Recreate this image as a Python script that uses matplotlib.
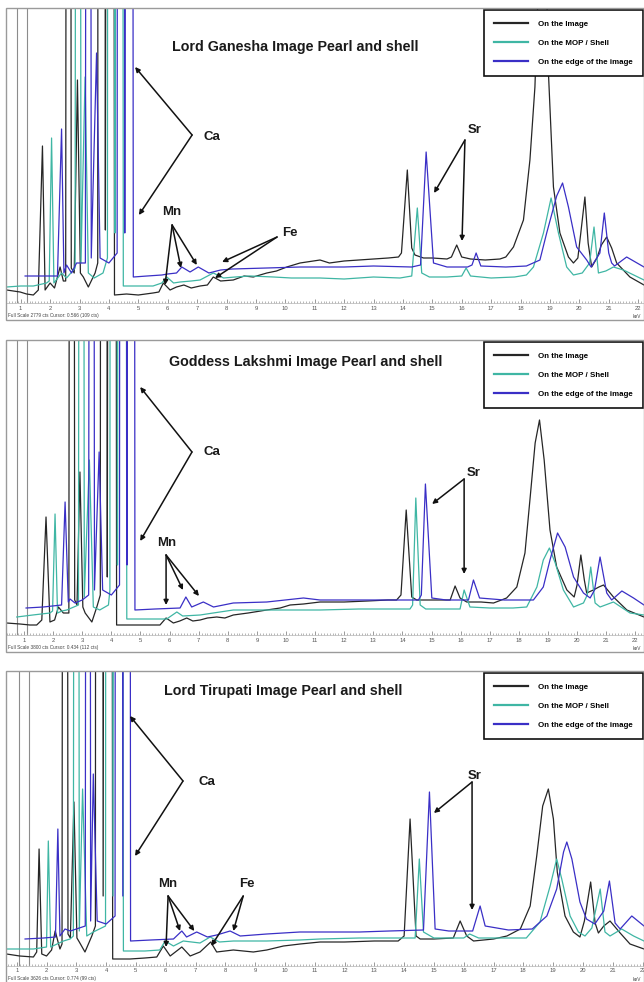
import matplotlib
matplotlib.use('Agg')
import matplotlib.pyplot as plt
from matplotlib.patches import Rectangle
from matplotlib.lines import Line2D
from matplotlib.ticker import MultipleLocator

plt.rcParams['font.family'] = ['Liberation Sans', 'DejaVu Sans']

# XRF spectra as (keV, height above the axis, a.u.)
# the Ca lines go far off scale, so they get a very high apex and are clipped

series_names = ['On the Image', 'On the MOP / Shell', 'On the edge of the image']
series_colors = ['#262626', '#3fb6a4', '#3a2fc6']

titles = ['Lord Ganesha Image Pearl and shell',
          'Goddess Lakshmi Image Pearl and shell',
          'Lord Tirupati Image Pearl and shell']
footers = ['Full Scale 2779 cts Cursor: 0.566 (109 cts)',
           'Full Scale 3800 cts Cursor: 0.434 (112 cts)',
           'Full Scale 3626 cts Cursor: 0.774 (99 cts)']

# grey marker lines at the far left of each panel (keV)
marker_lines = [[0.87, 1.21], [0.77, 1.09], [1.09, 1.42]]

# ---- Lord Ganesha ----
ganesha_image = [(0.52, 13), (0.75, 12), (0.98, 11), (1.2, 9), (1.43, 8), (1.6, 13), (1.74, 157), (1.83, 13),
                 (2.0, 20), (2.15, 15), (2.34, 36), (2.45, 22), (2.53, 22), (2.62, 3000), (2.72, 35), (2.82, 30),
                 (2.93, 223), (3.03, 30), (3.13, 26), (3.3, 16), (3.53, 30), (3.62, 40), (3.72, 6000), (3.88, 73),
                 (4.04, 4000), (4.19, 8), (4.6, 9), (5.0, 8), (5.5, 10), (5.7, 11), (5.85, 20), (6.08, 13),
                 (6.3, 16), (6.55, 18), (6.8, 15), (7.1, 17), (7.35, 18), (7.55, 26), (7.8, 22), (8.23, 23),
                 (8.6, 27), (8.91, 26), (9.37, 30), (9.7, 32), (10.05, 36), (10.5, 40), (11.18, 43), (11.5, 40),
                 (12.0, 42), (12.5, 43), (13.0, 44), (13.5, 45), (13.85, 46), (13.95, 50), (14.15, 133),
                 (14.3, 55), (14.41, 48), (14.7, 45), (15.0, 45), (15.5, 44), (15.65, 46), (15.83, 58), (16.0, 46),
                 (16.3, 44), (16.8, 43), (17.3, 44), (17.5, 46), (17.76, 56), (18.1, 83), (18.32, 143),
                 (18.49, 216), (18.62, 330), (18.75, 360), (18.9, 300), (18.95, 230), (19.12, 116), (19.34, 70),
                 (19.63, 46), (19.8, 40), (19.95, 45), (20.05, 70), (20.19, 106), (20.3, 60), (20.42, 36),
                 (20.6, 45), (20.75, 58), (20.93, 66), (21.1, 55), (21.27, 40), (21.72, 26), (22.2, 18)]
ganesha_shell = [(0.52, 16), (1.0, 17), (1.43, 17), (1.88, 20), (1.97, 22), (2.05, 165), (2.13, 20), (2.39, 30),
                 (2.56, 25), (2.85, 35), (2.95, 3000), (3.05, 40), (3.19, 226), (3.3, 30), (3.5, 25), (3.8, 30),
                 (3.95, 45), (4.05, 6000), (4.21, 70), (4.37, 4000), (4.49, 17), (5.0, 17), (5.5, 17), (5.8, 20),
                 (5.97, 26), (6.2, 20), (6.42, 21), (6.8, 22), (7.1, 23), (7.55, 30), (7.9, 25), (8.3, 26),
                 (8.8, 27), (9.6, 26), (10.2, 25), (11.18, 25), (12.0, 24), (13.0, 26), (13.9, 25), (14.3, 27),
                 (14.49, 95), (14.64, 30), (14.9, 26), (15.5, 26), (16.0, 27), (16.15, 35), (16.3, 27), (17.0, 25),
                 (17.8, 26), (18.2, 28), (18.44, 36), (18.78, 70), (19.04, 105), (19.29, 70), (19.57, 36),
                 (19.8, 28), (20.1, 30), (20.35, 40), (20.5, 76), (20.65, 30), (20.9, 32), (21.16, 36),
                 (21.5, 33), (22.2, 23)]
ganesha_edge = [(1.15, 27), (1.9, 27), (2.25, 27), (2.39, 174), (2.47, 30), (2.56, 38), (2.73, 30), (2.9, 40),
                (3.2, 40), (3.3, 3000), (3.4, 45), (3.58, 250), (3.7, 45), (4.0, 40), (4.28, 50), (4.38, 6000),
                (4.54, 70), (4.70, 4000), (4.83, 26), (5.3, 27), (5.8, 28), (6.0, 29), (6.3, 30), (6.48, 36),
                (6.76, 31), (7.04, 36), (7.4, 30), (7.8, 33), (8.2, 34), (9.37, 35), (10.5, 36), (11.18, 36),
                (12.0, 36), (13.0, 37), (14.3, 36), (14.6, 38), (14.79, 151), (15.04, 40), (15.5, 36), (16.2, 36),
                (16.35, 38), (16.49, 50), (16.65, 37), (17.5, 36), (18.2, 37), (18.66, 43), (18.89, 70),
                (19.23, 107), (19.43, 120), (19.63, 96), (19.91, 56), (20.25, 43), (20.4, 36), (20.7, 50),
                (20.85, 90), (21.0, 50), (21.1, 40), (21.2, 37), (21.61, 46), (22.2, 36)]

# ---- Goddess Lakshmi ----
lakshmi_image = [(0.4, 12), (0.86, 11), (1.2, 10), (1.435, 10), (1.61, 15), (1.755, 118), (1.89, 13), (2.05, 15),
                 (2.18, 28), (2.35, 22), (2.54, 22), (2.64, 3000), (2.74, 35), (2.82, 30), (2.92, 163), (3.02, 28),
                 (3.1, 22), (3.33, 13), (3.5, 28), (3.62, 40), (3.72, 6000), (3.86, 58), (4.04, 4000), (4.18, 10),
                 (4.8, 10), (5.3, 10), (5.67, 10), (5.88, 17), (6.13, 12), (6.35, 14), (6.59, 17), (6.8, 14),
                 (7.05, 15), (7.3, 17), (7.62, 18), (7.9, 17), (8.19, 20), (8.7, 22), (9.34, 25), (9.8, 27),
                 (10.14, 30), (10.6, 31), (11.17, 33), (12.0, 33), (12.8, 34), (13.5, 35), (13.8, 35), (13.95, 40),
                 (14.13, 125), (14.32, 38), (14.49, 35), (15.0, 35), (15.64, 35), (15.81, 49), (15.98, 37),
                 (16.21, 33), (16.7, 33), (17.13, 32), (17.58, 37), (17.93, 48), (18.21, 82), (18.39, 138),
                 (18.56, 192), (18.71, 215), (18.87, 175), (19.07, 105), (19.3, 68), (19.65, 45), (19.9, 38),
                 (20.0, 50), (20.13, 80), (20.25, 55), (20.33, 42), (20.56, 45), (20.75, 48), (20.91, 50),
                 (21.05, 45), (21.25, 38), (21.71, 25), (22.3, 18)]
lakshmi_shell = [(0.75, 18), (1.3, 20), (1.89, 22), (1.98, 24), (2.065, 121), (2.15, 22), (2.3, 24), (2.47, 25),
                 (2.87, 30), (2.97, 3000), (3.07, 38), (3.245, 175), (3.38, 28), (3.6, 25), (3.9, 30), (3.95, 45),
                 (4.05, 6000), (4.21, 70), (4.37, 4000), (4.53, 16), (5.2, 16), (5.9, 16), (6.1, 20), (6.25, 23),
                 (6.45, 19), (7.05, 20), (7.5, 22), (8.19, 25), (9.34, 25), (10.3, 25), (11.17, 25), (12.5, 26),
                 (13.5, 26), (14.26, 26), (14.35, 30), (14.46, 137), (14.61, 30), (14.8, 26), (15.5, 26),
                 (15.98, 26), (16.12, 45), (16.32, 28), (17.0, 27), (17.8, 27), (18.27, 28), (18.62, 48),
                 (18.84, 75), (19.05, 87), (19.25, 72), (19.53, 45), (19.88, 28), (20.22, 32), (20.35, 40),
                 (20.47, 68), (20.62, 32), (20.79, 28), (21.25, 33), (21.82, 22), (22.3, 20)]
lakshmi_edge = [(1.07, 27), (1.66, 28), (2.29, 30), (2.41, 133), (2.52, 33), (2.58, 36), (2.75, 32), (3.0, 35),
                (3.22, 40), (3.32, 3000), (3.42, 45), (3.58, 183), (3.7, 45), (4.0, 40), (4.28, 50), (4.38, 6000),
                (4.54, 70), (4.70, 4000), (4.81, 25), (5.5, 26), (6.36, 27), (6.56, 38), (6.76, 28), (7.16, 33),
                (7.51, 28), (8.19, 32), (9.34, 33), (10.6, 37), (11.17, 35), (12.5, 35), (13.5, 35), (14.55, 35),
                (14.65, 40), (14.79, 151), (15.01, 37), (15.5, 35), (16.27, 35), (16.44, 55), (16.65, 37),
                (17.5, 35), (18.5, 35), (18.84, 48), (19.07, 75), (19.33, 102), (19.59, 88), (19.88, 58),
                (20.22, 42), (20.45, 37), (20.6, 45), (20.79, 78), (21.02, 42), (21.19, 35), (21.54, 44),
                (21.94, 37), (22.3, 30)]

# ---- Lord Tirupati ----
tirupati_image = [(0.66, 12), (1.1, 10), (1.56, 9), (1.67, 14), (1.75, 117), (1.84, 12), (2.0, 10), (2.17, 16),
                  (2.29, 35), (2.45, 17), (2.52, 22), (2.62, 3000), (2.72, 32), (2.8, 28), (2.92, 164), (3.02, 28),
                  (3.1, 24), (3.29, 14), (3.52, 30), (3.64, 40), (3.74, 6000), (3.9, 70), (4.06, 4000), (4.22, 7),
                  (4.8, 7), (5.3, 8), (5.7, 9), (5.92, 20), (6.15, 10), (6.54, 19), (6.82, 10), (7.15, 14),
                  (7.51, 24), (7.71, 14), (8.27, 16), (8.94, 14), (9.39, 16), (9.95, 20), (10.51, 22), (11.18, 24),
                  (12.0, 24), (13.0, 25), (13.8, 25), (14.0, 30), (14.2, 147), (14.4, 30), (14.54, 27), (15.0, 27),
                  (15.65, 28), (15.88, 45), (16.1, 30), (16.33, 25), (17.0, 27), (17.45, 30), (17.9, 37),
                  (18.23, 60), (18.45, 110), (18.65, 160), (18.84, 177), (19.01, 147), (19.14, 94), (19.4, 50),
                  (19.68, 34), (19.9, 29), (20.05, 45), (20.26, 84), (20.41, 43), (20.52, 33), (20.7, 40),
                  (20.91, 45), (21.25, 33), (21.58, 22), (22.05, 17)]
tirupati_shell = [(0.66, 17), (1.56, 17), (2.0, 19), (2.06, 125), (2.14, 19), (2.57, 25), (2.79, 27), (2.9, 30),
                  (3.0, 3000), (3.1, 35), (3.21, 177), (3.35, 30), (3.57, 34), (3.98, 40), (4.08, 6000), (4.23, 70),
                  (4.4, 4000), (4.58, 15), (5.3, 15), (5.8, 16), (5.98, 25), (6.26, 20), (6.59, 25), (7.15, 23),
                  (7.49, 29), (7.8, 24), (8.27, 25), (9.39, 25), (10.5, 26), (11.18, 27), (12.5, 28), (13.5, 28),
                  (14.37, 28), (14.51, 107), (14.65, 34), (15.0, 28), (16.0, 28), (16.2, 32), (16.5, 28),
                  (17.5, 28), (18.1, 28), (18.56, 44), (18.9, 80), (19.12, 107), (19.29, 87), (19.57, 50),
                  (19.85, 34), (20.07, 30), (20.3, 38), (20.58, 77), (20.74, 34), (20.91, 30), (21.3, 37),
                  (21.7, 30), (22.05, 25)]
tirupati_edge = [(1.28, 27), (1.9, 28), (2.3, 29), (2.38, 137), (2.45, 30), (2.62, 37), (2.8, 35), (3.3, 40),
                 (3.4, 3000), (3.48, 45), (3.57, 192), (3.7, 45), (4.0, 42), (4.3, 50), (4.4, 6000), (4.56, 70),
                 (4.72, 4000), (4.82, 25), (5.5, 26), (6.26, 27), (6.54, 35), (6.7, 29), (7.04, 34), (7.4, 29),
                 (7.71, 31), (8.16, 35), (8.5, 30), (9.39, 32), (10.5, 34), (11.18, 34), (12.5, 34), (13.5, 35),
                 (14.65, 36), (14.85, 174), (15.04, 37), (15.5, 35), (16.3, 35), (16.55, 60), (16.72, 40),
                 (17.5, 36), (18.3, 37), (18.79, 50), (19.12, 77), (19.35, 114), (19.46, 124), (19.63, 107),
                 (19.9, 64), (20.12, 47), (20.4, 42), (20.7, 55), (20.89, 85), (21.08, 43), (21.25, 37),
                 (21.64, 50), (22.05, 40)]

panel_spectra = [[ganesha_image, ganesha_shell, ganesha_edge],
                 [lakshmi_image, lakshmi_shell, lakshmi_edge],
                 [tirupati_image, tirupati_shell, tirupati_edge]]

W, H = 644, 982
panel_tops = [8, 340, 671]
plot_h = 295
energy_range = [(0.5, 22.2), (0.38, 22.3), (0.64, 22.05)]


def fig_box(left, top, width, height):
    return [left / W, 1 - (top + height) / H, width / W, height / H]


def label_arrows(ax, text, text_xy, tail, heads):
    ax.text(text_xy[0], text_xy[1], text, ha='center', va='center', fontsize=9.5,
            fontweight='bold', color='#1a1a1a', zorder=6)
    for head in heads:
        ax.annotate('', xy=head, xytext=tail, zorder=6,
                    arrowprops=dict(arrowstyle='-|>', color='#111111', lw=1.1,
                                    mutation_scale=7, shrinkA=0, shrinkB=0))


fig = plt.figure(figsize=(W / 100, H / 100), dpi=100)
fig.patch.set_facecolor('white')

axes = []
for i in range(3):
    top = panel_tops[i]
    ax = fig.add_axes(fig_box(6, top, 638, plot_h))
    axes.append(ax)
    fig.patches.append(Rectangle((6 / W, 1 - (top + 312) / H), 637.5 / W, 312 / H,
                                 transform=fig.transFigure, fill=False,
                                 edgecolor='#9a9a9a', linewidth=1.0))

    for e in marker_lines[i]:
        ax.axvline(e, color='#8c8c8c', lw=0.8, zorder=1)

    for spec, color in zip(panel_spectra[i], series_colors):
        xs = [p[0] for p in spec]
        ys = [p[1] for p in spec]
        ax.plot(xs, ys, color=color, lw=0.9, zorder=2)

    ax.set_xlim(*energy_range[i])
    ax.set_ylim(0, plot_h)
    ax.set_yticks([])
    for side in ['top', 'right', 'left']:
        ax.spines[side].set_visible(False)
    ax.spines['bottom'].set_color('#b5b5b5')
    ax.spines['bottom'].set_linewidth(0.5)
    ax.xaxis.set_major_locator(MultipleLocator(1))
    ax.xaxis.set_minor_locator(MultipleLocator(0.1))
    ax.tick_params(axis='x', which='major', direction='in', length=3, width=0.6,
                   color='#8a8a8a', labelsize=4.2, labelcolor='#555555', pad=1.8)
    ax.tick_params(axis='x', which='minor', direction='in', length=1.6, width=0.5,
                   color='#9a9a9a')

    ax.text(0.003, -0.044, footers[i], transform=ax.transAxes, fontsize=3.4,
            color='#444444', ha='left', va='center')
    ax.text(0.996, -0.046, 'keV', transform=ax.transAxes, fontsize=3.4,
            color='#444444', ha='right', va='center')

    handles = [Line2D([], [], color=c, lw=1.6) for c in series_colors]
    leg = ax.legend(handles, series_names, loc='upper right',
                    bbox_to_anchor=(1 - 1 / 638, 1 - 2 / plot_h), borderaxespad=0,
                    prop={'size': 5.7, 'weight': 'bold'}, handlelength=4.2,
                    handletextpad=1.3, labelspacing=1.45, borderpad=1.3,
                    fancybox=False, framealpha=1, edgecolor='#111111')
    leg.get_frame().set_linewidth(1.2)
    leg.set_zorder(5)

# titles and element labels
ax1, ax2, ax3 = axes
ax1.text(10.33, 256, titles[0], ha='center', va='center', fontsize=10.3, fontweight='bold', color='#1a1a1a')
ax2.text(10.66, 273, titles[1], ha='center', va='center', fontsize=10.3, fontweight='bold', color='#1a1a1a')
ax3.text(9.94, 275, titles[2], ha='center', va='center', fontsize=10.3, fontweight='bold', color='#1a1a1a')

label_arrows(ax1, 'Ca', (7.51, 166), (6.83, 168), [(4.89, 236), (5.02, 88)])
label_arrows(ax1, 'Mn', (6.15, 91), (6.15, 78), [(5.91, 18), (6.45, 35), (6.99, 38)])
label_arrows(ax1, 'Fe', (10.16, 70), (9.72, 66), [(7.85, 41), (7.61, 25)])
label_arrows(ax1, 'Sr', (16.45, 173), (16.11, 163), [(15.06, 110), (16.01, 62)])

label_arrows(ax2, 'Ca', (7.46, 183), (6.77, 183), [(4.99, 248), (4.99, 94)])
label_arrows(ax2, 'Mn', (5.91, 92), (5.88, 80), [(5.88, 30), (6.46, 45), (7.01, 39)])
label_arrows(ax2, 'Sr', (16.46, 162), (16.12, 156), [(15.02, 131), (16.12, 61)])

label_arrows(ax3, 'Ca', (7.38, 184), (6.58, 185), [(4.8, 250), (4.97, 110)])
label_arrows(ax3, 'Mn', (6.08, 82), (6.08, 70), [(6.01, 19), (6.48, 35), (6.96, 35)])
label_arrows(ax3, 'Fe', (8.73, 82), (8.6, 70), [(7.53, 20), (8.27, 35)])
label_arrows(ax3, 'Sr', (16.35, 190), (16.28, 184), [(15.0, 153), (16.28, 56)])

fig.savefig('out.png', dpi=100)
